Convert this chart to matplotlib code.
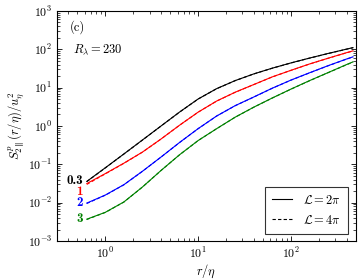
import matplotlib
matplotlib.use("Agg")
import matplotlib.pyplot as plt
from matplotlib.lines import Line2D
from matplotlib.ticker import LogLocator, NullFormatter, FixedLocator

plt.rcParams['font.family'] = 'serif'
plt.rcParams['font.serif'] = ['cmr10', 'DejaVu Serif']
plt.rcParams['mathtext.fontset'] = 'cm'
plt.rcParams['axes.formatter.use_mathtext'] = True

# data
r = [0.631, 1.0, 1.585, 2.512, 3.981, 6.31, 10.0, 15.85, 25.12, 39.81,
     63.1, 100, 158.5, 251.2, 398.1, 467.7]
orders = ["0.3", "1", "2", "3"]
colors = ["black", "red", "blue", "green"]

s_03_2pi = [0.0359, 0.0815, 0.1866, 0.4315, 0.998, 2.307, 5.047, 9.397, 15.24, 22.75,
            32.14, 43.95, 58.75, 77.45, 100.7, 110.2]
s_1_2pi = [0.0316, 0.0575, 0.1072, 0.2089, 0.4571, 1.047, 2.291, 4.467, 7.586, 12.02,
           19.05, 28.18, 41.21, 58.21, 81.28, 90.78]
s_2_2pi = [0.00977, 0.01585, 0.02951, 0.06607, 0.1549, 0.3715, 0.8511, 1.820, 3.388, 5.689,
           9.661, 15.67, 24.27, 37.15, 55.59, 63.39]
s_3_2pi = [0.003715, 0.005623, 0.01047, 0.0257, 0.06918, 0.1778, 0.4169, 0.8511, 1.698, 3.090,
           5.370, 9.120, 15.14, 24.55, 39.81, 46.88]

s_03_4pi = [0.0355, 0.0810, 0.1860, 0.4300, 0.995, 2.300, 5.030, 9.380, 15.20, 22.70,
            32.05, 43.80, 58.50, 77.10, 100.2, 109.5]
s_1_4pi = [0.0300, 0.0565, 0.1065, 0.2080, 0.4560, 1.045, 2.285, 4.455, 7.565, 11.99,
           19.00, 28.10, 41.05, 57.95, 80.80, 90.10]
s_2_4pi = [0.00955, 0.01570, 0.02935, 0.06590, 0.1545, 0.3705, 0.8490, 1.815, 3.380, 5.675,
           9.630, 15.61, 24.15, 36.95, 55.20, 62.80]
s_3_4pi = [0.003650, 0.005580, 0.01040, 0.0256, 0.06900, 0.1773, 0.4158, 0.8490, 1.693, 3.080,
           5.350, 9.080, 15.05, 24.35, 39.40, 46.20]

label_y = [0.037, 0.0195, 0.0098, 0.0037]
xticks = [1, 10, 100]

series_2pi = [s_03_2pi, s_1_2pi, s_2_2pi, s_3_2pi]
series_4pi = [s_03_4pi, s_1_4pi, s_2_4pi, s_3_4pi]

fig = plt.figure(figsize=(3.6, 2.79), dpi=100)
ax = fig.add_axes([0.158, 0.136, 0.830, 0.825])

for s2, s4, c in zip(series_2pi, series_4pi, colors):
    ax.plot(r, s2, color=c, lw=0.8, ls='-')
    ax.plot(r, s4, color=c, lw=0.8, ls=(0, (3, 2)))

ax.set_xscale('log')
ax.set_yscale('log')
ax.set_xlim(0.3, 500)
ax.set_ylim(1e-3, 1e3)

ax.xaxis.set_major_locator(FixedLocator(xticks))
ax.xaxis.set_minor_locator(LogLocator(base=10, subs=range(2, 10), numticks=20))
ax.xaxis.set_minor_formatter(NullFormatter())
ax.yaxis.set_major_locator(LogLocator(base=10, numticks=10))
ax.yaxis.set_minor_locator(LogLocator(base=10, subs=range(2, 10), numticks=20))
ax.yaxis.set_minor_formatter(NullFormatter())
ax.tick_params(which='both', direction='in', top=True, right=True, labelsize=8.5)
ax.tick_params(which='major', length=3.5, width=0.6)
ax.tick_params(which='minor', length=2, width=0.5)
for sp in ax.spines.values():
    sp.set_linewidth(0.8)

for o, c, y in zip(orders, colors, label_y):
    ax.text(0.575, y, o, color=c, ha='right', va='center', fontsize=9.5,
            family=['cmb10', 'DejaVu Serif'])

ax.text(0.044, 0.93, '(c)', transform=ax.transAxes, fontsize=9, ha='left', va='center')
ax.text(0.054, 0.83, r'$R_\lambda = 230$', transform=ax.transAxes, fontsize=9, ha='left', va='center')

ax.set_xlabel(r'$r/\eta$', fontsize=9, labelpad=1)
ax.set_ylabel(r'$S_{2\parallel}^{p}(r/\eta)/u_\eta^2$', fontsize=9, labelpad=1)

handles = [Line2D([0], [0], color='black', lw=0.8, ls='-'),
           Line2D([0], [0], color='black', lw=0.8, ls=(0, (3, 2)))]
leg = ax.legend(handles, [r'$\mathcal{L} = 2\pi$', r'$\mathcal{L} = 4\pi$'],
                loc='lower right', fontsize=9, frameon=True, fancybox=False,
                edgecolor='black', handlelength=1.6, handletextpad=0.9,
                borderpad=0.55, labelspacing=0.55, borderaxespad=0.6)
leg.get_frame().set_linewidth(0.8)

fig.savefig('out.png', dpi=100)
